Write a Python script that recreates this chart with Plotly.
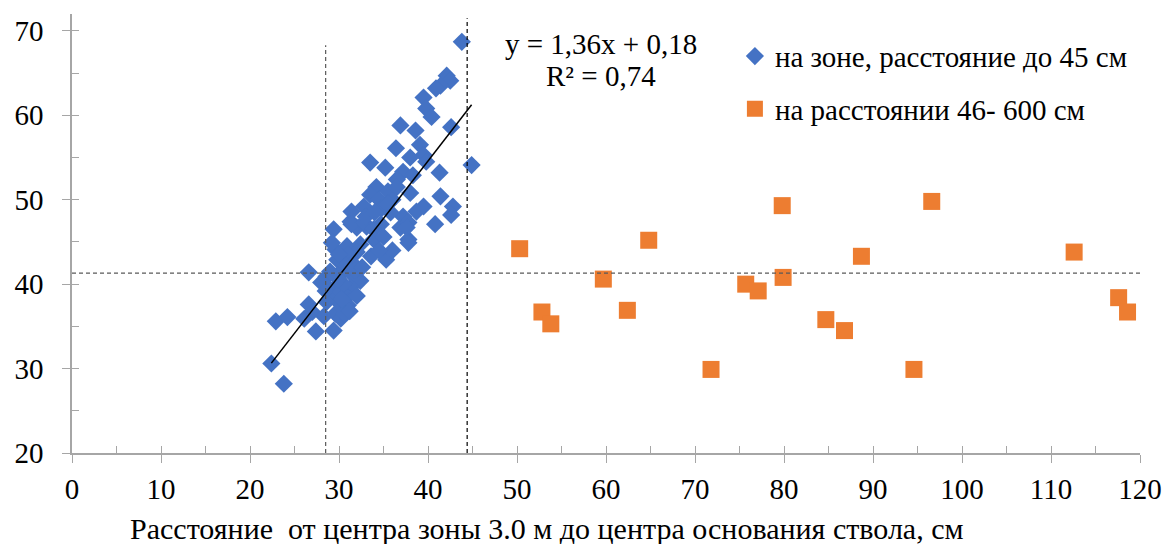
import plotly.graph_objects as go

# Blue series: "на зоне, расстояние до 45 см"
zone_x = [43.8, 42.1, 42.5, 41.4, 40.9, 39.5, 39.8, 40.4, 36.9, 38.6, 42.6, 36.4, 39.1,
          39.5, 39.8, 44.9, 33.5, 41.3, 35.2, 37.2, 36.5, 34.2, 33.5, 38.0, 41.4, 42.8,
          42.6, 39.5, 38.7, 37.2, 35.8, 32.8, 31.4, 31.3, 32.0, 33.1, 34.7, 36.9, 37.8,
          40.8, 29.4, 37.8, 31.4, 32.8, 33.9, 29.6, 29.2, 30.9, 32.4, 33.9, 35.0, 37.6,
          37.8, 35.3, 33.6, 32.0, 29.8, 30.5, 26.6, 28.6, 30.2, 31.7, 32.4, 31.3, 29.8,
          28.6, 28.0, 29.4, 30.9, 32.0, 28.6, 30.2, 26.6, 28.5, 30.2, 22.9, 24.2, 26.1,
          27.0, 28.3, 29.6, 30.5, 27.4, 29.4, 30.2, 22.4, 23.8,
          34.5, 35.5, 34.8, 36.0, 33.0, 34.0, 36.5, 35.5, 31.0, 30.0, 31.5, 30.5, 31.0,
          29.0, 30.6, 36.0, 34.5, 38.3, 38.0, 30.8, 31.8, 29.9, 32.6, 30.3, 31.2]
zone_y = [68.7, 64.7, 64.1, 63.5, 63.2, 62.1, 60.8, 59.8, 58.8, 58.2, 58.6, 56.1, 56.5,
          55.3, 54.5, 54.1, 54.4, 53.2, 53.8, 53.3, 52.4, 51.5, 50.6, 50.8, 50.4, 49.2,
          48.2, 49.2, 48.6, 48.0, 48.5, 49.2, 48.6, 47.4, 46.7, 46.8, 47.1, 46.7, 47.3,
          47.1, 46.5, 45.3, 47.1, 47.3, 46.5, 44.1, 44.9, 44.5, 44.7, 45.3, 45.6, 46.7,
          44.9, 42.9, 43.3, 43.8, 42.9, 41.8, 41.4, 40.9, 41.2, 40.9, 40.4, 39.6, 39.8,
          39.8, 40.2, 38.6, 38.5, 38.6, 37.9, 37.6, 37.6, 39.2, 39.1, 35.6, 36.1, 35.9,
          36.7, 36.2, 36.5, 37.1, 34.4, 34.5, 35.9, 30.6, 28.2,
          50.0, 51.0, 49.0, 50.0, 48.0, 48.5, 51.5, 49.5, 43.5, 43.5, 42.5, 40.0, 37.5,
          41.5, 36.5, 44.0, 44.0, 52.9, 55.0, 42.2, 41.6, 40.6, 42.0, 38.2, 36.8]

# Orange series: "на расстоянии 46- 600 см"
far_x = [50.3, 52.8, 53.8, 59.7, 62.4, 64.8, 71.8, 75.7, 77.1, 79.8, 79.9, 84.7, 86.8,
         88.7, 94.6, 96.6, 112.6, 117.6, 118.6]
far_y = [44.2, 36.7, 35.3, 40.6, 36.9, 45.2, 29.9, 40.0, 39.2, 49.3, 40.8, 35.8, 34.5,
         43.3, 29.9, 49.8, 43.8, 38.4, 36.7]

# Trend line parameters (from chart equation)
slope = 1.36
intercept = 0.18
trend_x = [22.4, 44.9]
trend_y = [slope * v + intercept for v in trend_x]

# Reference lines
vline_left = 28.5
vline_left_top = 68.3
vline_right = 44.4
vline_right_top = 71.5
hline_y = 41.3

x_ticks = [0, 10, 20, 30, 40, 50, 60, 70, 80, 90, 100, 110, 120]
y_ticks = [20, 30, 40, 50, 60, 70]

FONT = "'Liberation Serif', 'Times New Roman', Times, serif"
FS = 29

fig = go.Figure()

fig.add_trace(go.Scatter(
    x=zone_x, y=zone_y, mode="markers", name="на зоне, расстояние до 45 см",
    marker=dict(symbol="diamond", size=14, color="#4472C4"),
    legendgroup="a"))
fig.add_trace(go.Scatter(
    x=far_x, y=far_y, mode="markers", name="на расстоянии 46- 600 см",
    marker=dict(symbol="square", size=17, color="#ED7D31"),
    legendgroup="b"))
fig.add_trace(go.Scatter(
    x=trend_x, y=trend_y, mode="lines", line=dict(color="black", width=1.5),
    showlegend=False, hoverinfo="skip"))
# invisible trace on overlay axes (for inside ticks)
fig.add_trace(go.Scatter(x=[None], y=[None], xaxis="x2", yaxis="y2",
                         showlegend=False, hoverinfo="skip"))

dash = "4px,3px"
fig.add_shape(type="line", x0=0, x1=120, y0=hline_y, y1=hline_y,
              line=dict(color="#595959", width=1.2, dash=dash))
fig.add_shape(type="line", x0=vline_left, x1=vline_left, y0=20, y1=vline_left_top,
              line=dict(color="#595959", width=1.2, dash=dash))
fig.add_shape(type="line", x0=vline_right, x1=vline_right, y0=20, y1=vline_right_top,
              line=dict(color="black", width=1.2, dash=dash))

fig.add_annotation(x=59.4, y=68.4, xref="x", yref="y", text="y = 1,36x + 0,18",
                   showarrow=False, font=dict(family=FONT, size=FS, color="black"))
fig.add_annotation(x=59.4, y=64.7, xref="x", yref="y", text="R² = 0,74",
                   showarrow=False, font=dict(family=FONT, size=FS, color="black"))
fig.add_annotation(x=0.4446, y=-0.171, xref="paper", yref="paper",
                   text="Расстояние  от центра зоны 3.0 м до центра основания ствола, см",
                   showarrow=False, yanchor="middle",
                   font=dict(family=FONT, size=30, color="black"))

axis_col = "#A6A6A6"
fig.update_layout(
    width=1164, height=536,
    margin=dict(l=59, r=32, t=6, b=91),
    plot_bgcolor="white", paper_bgcolor="white",
    font=dict(family=FONT, size=FS, color="black"),
    showlegend=True,
    legend=dict(x=0.6207, y=0.962, xanchor="left", yanchor="top",
                font=dict(family=FONT, size=FS, color="black"),
                bgcolor="rgba(0,0,0,0)", traceorder="grouped", tracegroupgap=12),
    xaxis=dict(range=[0, 120], tickvals=x_ticks, ticks="outside", ticklen=8,
               tickcolor=axis_col, showline=True, linecolor=axis_col, linewidth=1.5,
               showgrid=False, zeroline=False, ticklabelstandoff=1,
               tickfont=dict(family=FONT, size=FS, color="black")),
    yaxis=dict(range=[20, 72], tickvals=y_ticks, ticks="outside", ticklen=8,
               tickcolor=axis_col, showline=True, linecolor=axis_col, linewidth=1.5,
               showgrid=False, zeroline=False, ticklabelstandoff=13,
               tickfont=dict(family=FONT, size=FS, color="black")),
    xaxis2=dict(range=[0, 120], overlaying="x", anchor="y2", dtick=5, tick0=0,
                ticks="inside", ticklen=7, tickcolor=axis_col, showticklabels=False,
                showline=False, showgrid=False, zeroline=False),
    yaxis2=dict(range=[20, 72], overlaying="y", anchor="x2", dtick=5, tick0=0,
                ticks="inside", ticklen=7, tickcolor=axis_col, showticklabels=False,
                showline=False, showgrid=False, zeroline=False),
)

fig.write_html("out.html")
